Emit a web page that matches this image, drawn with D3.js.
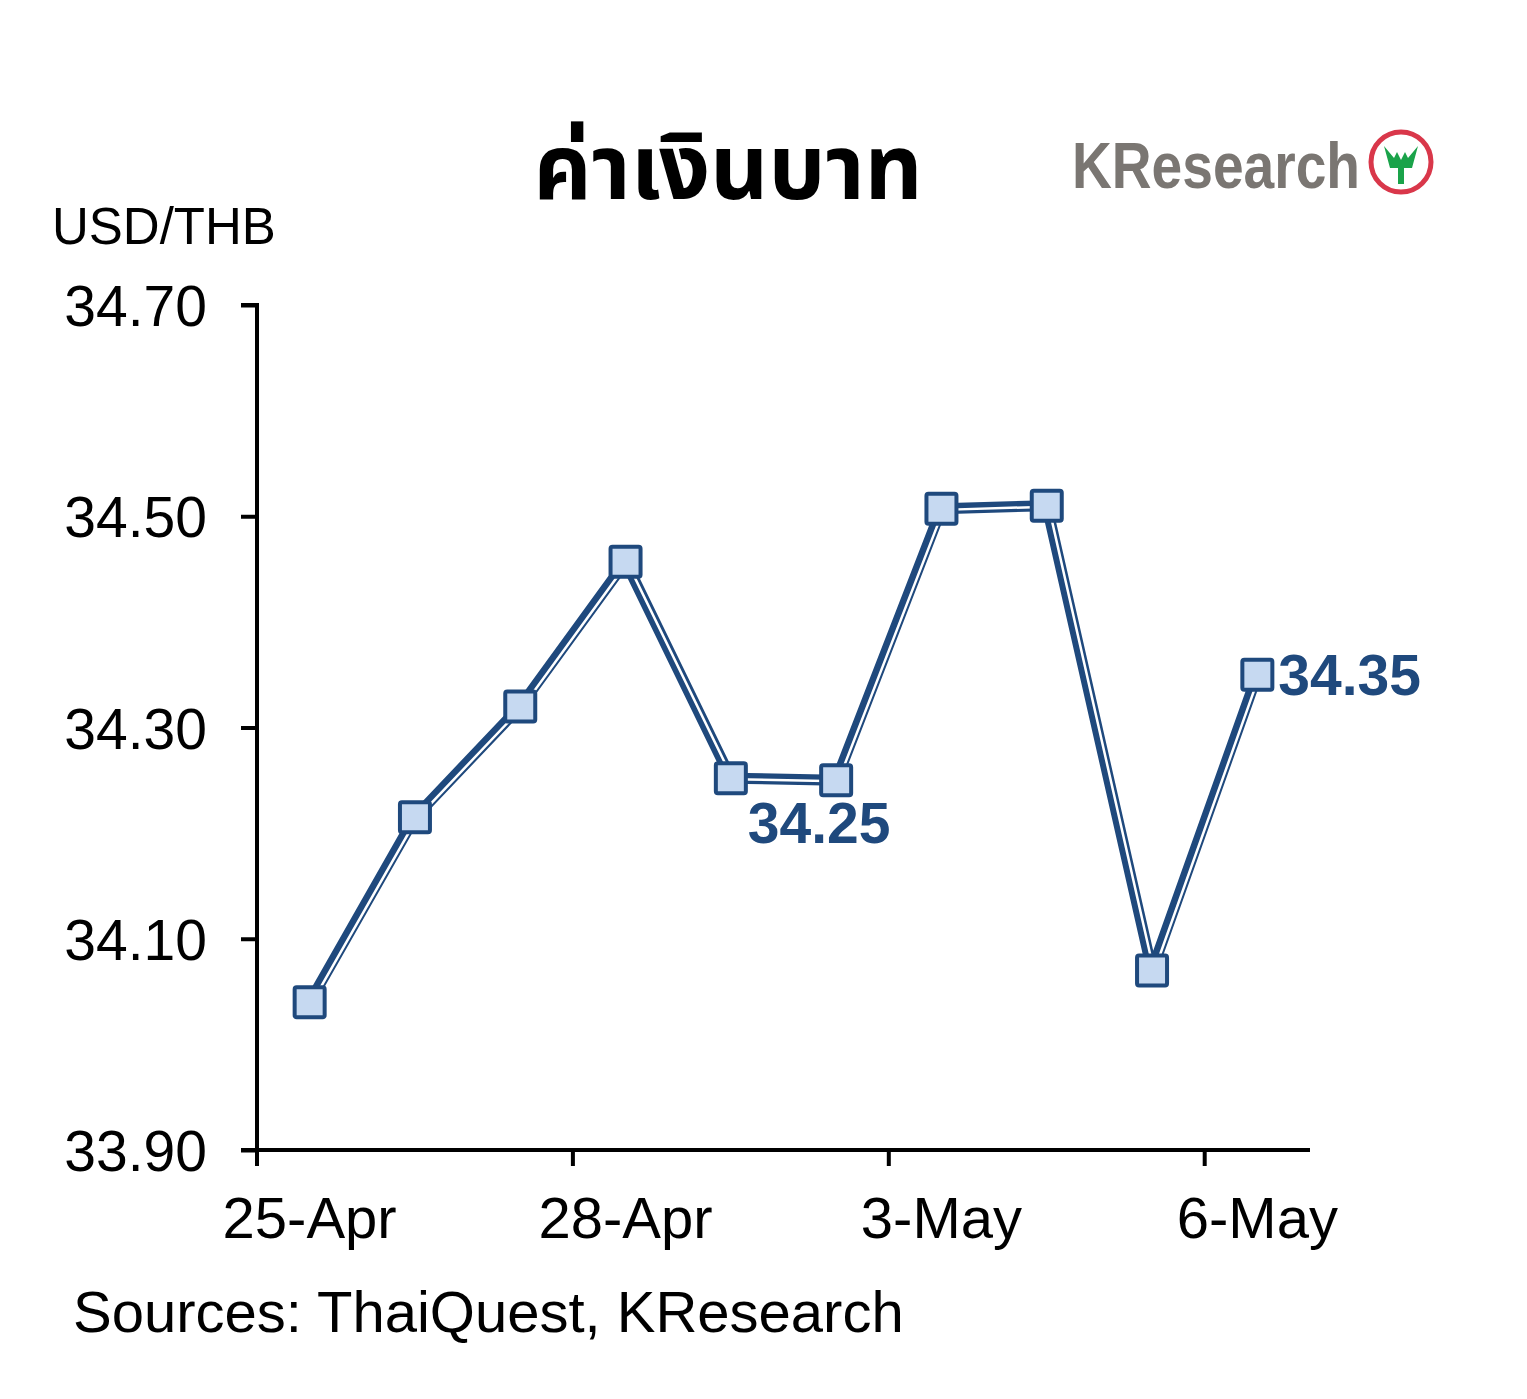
<!DOCTYPE html>
<html><head><meta charset="utf-8">
<script src="https://cdn.jsdelivr.net/npm/d3@7"></script>
<style>body{margin:0;background:#fff}svg{display:block}</style>
</head><body><div id="chart"></div>
<script>
const categories = ["25-Apr","26-Apr","27-Apr","28-Apr","29-Apr","2-May","3-May","4-May","5-May","6-May"];
const values = [34.04,34.215,34.32,34.457,34.252,34.25,34.507,34.51,34.07,34.35];
const yTicks = [33.90,34.10,34.30,34.50,34.70];
const xTickLabels = ["25-Apr","28-Apr","3-May","6-May"];
const labeledPoints = [5,9];
const title = "ค่าเงินบาท";
const unit = "USD/THB";
const source = "Sources: ThaiQuest, KResearch";

(function(){
const W=1527,H=1399;
const svg=d3.select("#chart").append("svg").attr("width",W).attr("height",H);
const pL=257,pR=1310,pT=305,pB=1150;
const x=d3.scaleBand().domain(categories).range([pL,pR]);
const y=d3.scaleLinear().domain([33.9,34.7]).range([pB,pT]);
const navy="#1f497d", fill="#c6d9f1", font="Liberation Sans, Arial, sans-serif";

// title
svg.append("text").attr("x",728).attr("y",199).attr("text-anchor","middle")
  .attr("font-family","'Noto Sans Thai','Noto Sans','DejaVu Sans',sans-serif").attr("font-weight","bold")
  .attr("font-size",90).attr("fill","#000").text(title);
// logo
const logo=svg.append("g");
logo.append("text").attr("x",1072).attr("y",188).attr("font-family",font).attr("font-weight","bold")
  .attr("font-size",64).attr("fill","#7a7672").attr("textLength",288).attr("lengthAdjust","spacingAndGlyphs").text("KResearch");
logo.append("circle").attr("cx",1401).attr("cy",162).attr("r",30).attr("fill","#fff").attr("stroke","#d9374a").attr("stroke-width",5);
logo.append("path").attr("d","M1384,146 L1394,158 L1397,152 L1401,160 L1405,152 L1408,158 L1418,146 L1412,168 L1404,168 L1404,184 L1398,184 L1398,168 L1390,168 Z").attr("fill","#1aa34a");

// unit
svg.append("text").attr("x",52).attr("y",244).attr("font-family",font).attr("font-size",51).attr("fill","#000").text(unit);

// y axis
const yAxis=d3.axisLeft(y).tickValues(yTicks).tickFormat(d3.format(".2f")).tickSize(16).tickPadding(34);
const gy=svg.append("g").attr("transform",`translate(${pL},0)`).call(yAxis);
gy.select(".domain").attr("stroke","#000").attr("stroke-width",4).attr("d",`M-16,${pT}H0V${pB}`);
gy.selectAll(".tick line").attr("stroke","#000").attr("stroke-width",4);
gy.selectAll(".tick text").attr("font-family",font).attr("font-size",57).attr("fill","#000").attr("dy","0.36em");

// x axis
const tickCats=categories.filter(c=>xTickLabels.includes(c));
const gx=svg.append("g").attr("transform",`translate(0,${pB})`);
gx.append("line").attr("x1",pL-16).attr("x2",pR).attr("y1",0).attr("y2",0).attr("stroke","#000").attr("stroke-width",4);
gx.selectAll(".xt").data(tickCats).join("line").attr("class","xt")
  .attr("x1",d=>x(d)).attr("x2",d=>x(d)).attr("y1",0).attr("y2",16).attr("stroke","#000").attr("stroke-width",4);
gx.selectAll(".xl").data(tickCats).join("text").attr("class","xl")
  .attr("x",d=>x(d)+x.bandwidth()/2).attr("y",88).attr("text-anchor","middle")
  .attr("font-family",font).attr("font-size",58).attr("fill","#000").text(d=>d);

// line (compound double line)
const pts=categories.map((c,i)=>({c,v:values[i],i}));
const line=d3.line().x(d=>x(d.c)+x.bandwidth()/2).y(d=>y(d.v));
svg.append("path").datum(pts).attr("d",line).attr("fill","none").attr("stroke",navy).attr("stroke-width",11).attr("stroke-linejoin","round");
svg.append("path").datum(pts).attr("d",line).attr("fill","none").attr("stroke","#fff").attr("stroke-width",2.5).attr("transform","translate(2,1)");

// markers
const ms=30;
svg.selectAll(".m").data(pts).join("rect").attr("class","m")
  .attr("x",d=>x(d.c)+x.bandwidth()/2-ms/2).attr("y",d=>y(d.v)-ms/2).attr("width",ms).attr("height",ms)
  .attr("fill",fill).attr("stroke",navy).attr("stroke-width",4).attr("rx",2);

// data labels
const lab=pts.filter(d=>labeledPoints.includes(d.i));
svg.selectAll(".dl").data(lab).join("text").attr("class","dl")
  .attr("x",d=>d.i===5? x(d.c)+x.bandwidth()/2-17 : x(d.c)+x.bandwidth()/2+21)
  .attr("y",d=>d.i===5? y(d.v)+63 : y(d.v)+20)
  .attr("text-anchor",d=>d.i===5?"middle":"start")
  .attr("font-family",font).attr("font-weight","bold").attr("font-size",57).attr("fill",navy)
  .text(d=>d3.format(".2f")(d.v));

// source
svg.append("text").attr("x",73).attr("y",1332).attr("font-family",font).attr("font-size",58).attr("fill","#000").text(source);
})();
</script></body></html>
